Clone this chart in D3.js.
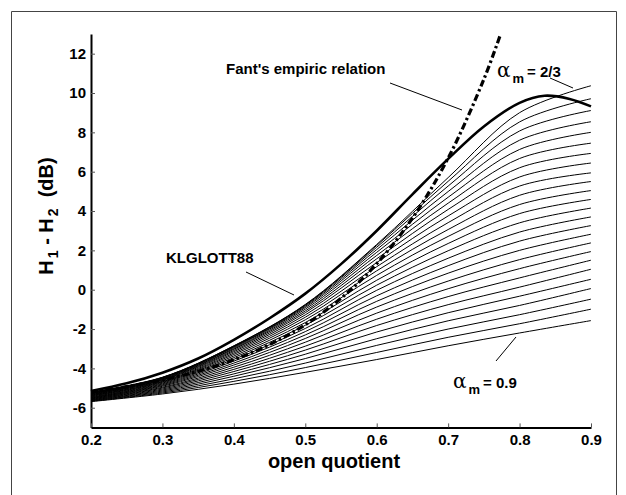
<!DOCTYPE html>
<html><head><meta charset="utf-8">
<script src="https://cdn.jsdelivr.net/npm/d3@7"></script>
<style>body{margin:0;background:#fff;} svg{display:block;}</style>
</head><body>
<svg id="chart" width="626" height="495"></svg>
<script>
// ---- data ----
const oqGrid = [0.2, 0.3, 0.4, 0.5, 0.6, 0.7, 0.8, 0.9];
// H1-H2 (dB) for alpha_m from 2/3 (first) to 0.9 (last)
const alphaCurves = [
  [-5.20,-4.45,-2.85,-0.75, 2.30, 5.70, 9.00,10.37],
  [-5.22,-4.46,-2.86,-0.77, 2.25, 5.51, 8.53, 9.71],
  [-5.24,-4.47,-2.88,-0.80, 2.16, 5.27, 8.07, 9.11],
  [-5.26,-4.49,-2.91,-0.85, 2.04, 4.99, 7.60, 8.54],
  [-5.28,-4.51,-2.94,-0.91, 1.90, 4.70, 7.13, 8.00],
  [-5.30,-4.53,-2.99,-0.99, 1.74, 4.40, 6.67, 7.45],
  [-5.32,-4.56,-3.03,-1.08, 1.57, 4.08, 6.20, 6.93],
  [-5.34,-4.58,-3.09,-1.17, 1.38, 3.75, 5.73, 6.44],
  [-5.36,-4.61,-3.15,-1.28, 1.17, 3.41, 5.27, 5.94],
  [-5.38,-4.65,-3.22,-1.40, 0.96, 3.06, 4.80, 5.50],
  [-5.40,-4.68,-3.29,-1.53, 0.73, 2.71, 4.33, 5.04],
  [-5.42,-4.71,-3.37,-1.67, 0.48, 2.35, 3.87, 4.59],
  [-5.45,-4.75,-3.45,-1.81, 0.23, 1.98, 3.40, 4.15],
  [-5.47,-4.79,-3.54,-1.97,-0.03, 1.60, 2.93, 3.70],
  [-5.49,-4.83,-3.63,-2.13,-0.31, 1.22, 2.47, 3.26],
  [-5.51,-4.87,-3.73,-2.30,-0.59, 0.84, 2.00, 2.82],
  [-5.53,-4.91,-3.83,-2.48,-0.88, 0.44, 1.53, 2.38],
  [-5.55,-4.96,-3.94,-2.67,-1.19, 0.05, 1.07, 1.94],
  [-5.57,-5.00,-4.05,-2.87,-1.50,-0.35, 0.60, 1.50],
  [-5.59,-5.05,-4.16,-3.07,-1.82,-0.76, 0.13, 1.04],
  [-5.61,-5.10,-4.28,-3.28,-2.15,-1.17,-0.33, 0.53],
  [-5.63,-5.15,-4.40,-3.50,-2.49,-1.58,-0.80, 0.06],
  [-5.65,-5.20,-4.53,-3.73,-2.83,-2.00,-1.27,-0.48],
  [-5.67,-5.25,-4.66,-3.96,-3.19,-2.42,-1.73,-0.99],
  [-5.69,-5.30,-4.80,-4.20,-3.55,-2.85,-2.20,-1.57]
];
const klglottOq  = [0.2, 0.25, 0.3, 0.35, 0.4, 0.45, 0.5, 0.55, 0.6, 0.65, 0.7, 0.75, 0.8, 0.835, 0.87, 0.9];
const klglottDb  = [-5.15,-4.76,-4.22,-3.50,-2.55,-1.45,-0.20, 1.30, 3.00, 4.85, 6.65, 8.30, 9.50, 9.86, 9.70, 9.32];
const fantOq     = [0.2, 0.25, 0.3, 0.35, 0.4, 0.45, 0.5, 0.55, 0.6, 0.65, 0.7, 0.75, 0.7735];
const fantDb     = [-5.19,-4.93,-4.59,-4.15,-3.56,-2.79,-1.78,-0.44, 1.32, 3.64, 6.69,10.70,13.00];
const xTicks = [0.2, 0.3, 0.4, 0.5, 0.6, 0.7, 0.8, 0.9];
const yTicks = [-6, -4, -2, 0, 2, 4, 6, 8, 10, 12];

// ---- drawing ----
const svg = d3.select('#chart');
const FONT = '"Liberation Sans", Arial, Helvetica, sans-serif';
svg.append('rect').attr('x', 0).attr('y', 0).attr('width', 626).attr('height', 495).attr('fill', '#fff');
// figure frame (bottom edge lies outside the picture)
svg.append('path').attr('d', 'M11.5,495V11.5H616.5V495')
   .attr('fill', 'none').attr('stroke', '#444').attr('stroke-width', 1);

const x = d3.scaleLinear().domain([0.2, 0.9]).range([91, 591]);
const y = d3.scaleLinear().domain([-7, 13]).range([427.4, 34]);

const line = d3.line().x(d => x(d[0])).y(d => y(d[1])).curve(d3.curveCatmullRom.alpha(0.5));

const g = svg.append('g');
g.selectAll('path.thin').data(alphaCurves).enter().append('path')
  .attr('class', 'thin')
  .attr('d', vals => line(vals.map((v, i) => [oqGrid[i], v])))
  .attr('fill', 'none').attr('stroke', '#000').attr('stroke-width', 1);

g.append('path')
  .attr('d', line(klglottDb.map((v, i) => [klglottOq[i], v])))
  .attr('fill', 'none').attr('stroke', '#000').attr('stroke-width', 2.6);

g.append('path')
  .attr('d', line(fantDb.map((v, i) => [fantOq[i], v])))
  .attr('fill', 'none').attr('stroke', '#000').attr('stroke-width', 3.2)
  .attr('stroke-dasharray', '7,3,2.5,3');

// axes
const yAxis = g.append('g').attr('transform', 'translate(91,0)')
  .call(d3.axisLeft(y).tickValues(yTicks).tickSizeInner(-4).tickSizeOuter(0).tickPadding(5));
const xAxis = g.append('g').attr('transform', 'translate(0,427.4)')
  .call(d3.axisBottom(x).tickValues(xTicks).tickSizeInner(-4).tickSizeOuter(0).tickPadding(7));
[xAxis, yAxis].forEach(a => {
  a.select('.domain').attr('stroke', '#000').attr('stroke-width', 2);
  a.selectAll('.tick line').attr('stroke', '#555').attr('stroke-width', 1);
  a.selectAll('.tick text').attr('font-family', FONT).attr('font-weight', 'bold')
    .attr('font-size', 15).attr('fill', '#000');
});
xAxis.selectAll('.tick text').text(d => d.toFixed(1));
yAxis.selectAll('.tick text').text(d => String(d));

// axis labels
svg.append('text').attr('x', 334).attr('y', 468).attr('text-anchor', 'middle')
  .attr('font-family', FONT).attr('font-weight', 'bold').attr('font-size', 20).text('open quotient');

const yl = svg.append('text').attr('transform', 'translate(53,216) rotate(-90)').attr('text-anchor', 'middle')
  .attr('font-family', FONT).attr('font-weight', 'bold').attr('font-size', 20);
yl.append('tspan').text('H');
yl.append('tspan').attr('font-size', 14).attr('dy', 5).attr('dx', 2).text('1');
yl.append('tspan').attr('dy', -5).text(' - H');
yl.append('tspan').attr('font-size', 14).attr('dy', 5).attr('dx', 2).text('2');
yl.append('tspan').attr('dy', -5).text('\u00a0 (dB)');

// annotations
function ann(txt, xx, yy) {
  svg.append('text').attr('x', xx).attr('y', yy).attr('font-family', FONT)
    .attr('font-weight', 'bold').attr('font-size', 15).text(txt);
}
ann("Fant's empiric relation", 226, 74);
ann('KLGLOTT88', 166, 263);

function alphaLabel(xx, yy, val) {
  const t = svg.append('text').attr('x', xx).attr('y', yy).attr('font-family', FONT)
    .attr('font-weight', 'bold').attr('font-size', 15);
  t.append('tspan').attr('font-family', '"DejaVu Serif", "Liberation Serif", serif')
    .attr('font-weight', 'normal').attr('font-size', 20).text('\u03b1');
  t.append('tspan').attr('font-size', 13).attr('dy', 6).attr('dx', 2).text('m');
  t.append('tspan').attr('dy', -6).attr('dx', 3).text('= ' + val);
}
alphaLabel(497, 77, '2/3');
alphaLabel(453, 388, '0.9');

// pointer lines
const pointers = [
  [[390, 83], [462, 110]],
  [[246, 272], [294, 295]],
  [[550, 78], [573, 88]],
  [[516, 337], [496, 361]]
];
svg.selectAll('line.ptr').data(pointers).enter().append('line').attr('class', 'ptr')
  .attr('x1', d => d[0][0]).attr('y1', d => d[0][1]).attr('x2', d => d[1][0]).attr('y2', d => d[1][1])
  .attr('stroke', '#000').attr('stroke-width', 1);
</script>
</body></html>
